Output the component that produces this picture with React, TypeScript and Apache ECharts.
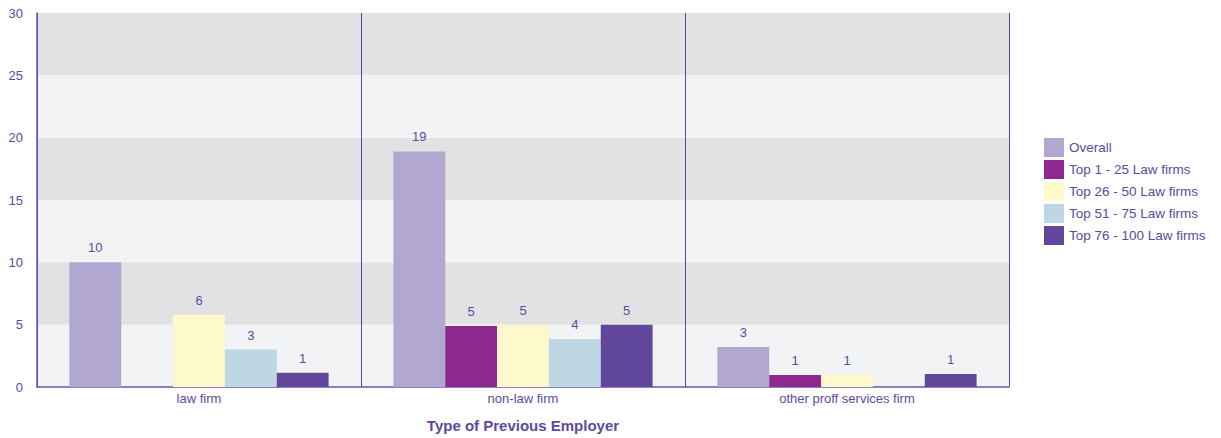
import React, { useEffect, useRef } from "react";
import * as echarts from "echarts";

const categories = ["law firm", "non-law firm", "other proff services firm"];
const seriesNames = ["Overall", "Top 1 - 25 Law firms", "Top 26 - 50 Law firms", "Top 51 - 75 Law firms", "Top 76 - 100 Law firms"];
const overall = [10, 18.9, 3.2];
const top1_25 = [null, 4.9, 0.97];
const top26_50 = [5.8, 5.0, 1.0];
const top51_75 = [3.0, 3.85, null];
const top76_100 = [1.15, 5.0, 1.05];
const colors = ["#b1a7d0", "#8e278e", "#fdf9cb", "#bdd7e5", "#60479c"];
const yTicks = [0, 5, 10, 15, 20, 25, 30];

const textColor = "#5e4a9e";

export default function App() {
  const ref = useRef<HTMLDivElement>(null);
  useEffect(() => {
    const chart = echarts.init(ref.current!, null, { renderer: "svg" });
    const all = [overall, top1_25, top26_50, top51_75, top76_100];
    chart.setOption({
      animation: false,
      textStyle: { fontFamily: "Arial, Liberation Sans, sans-serif" },
      grid: { left: 37, right: 212, top: 13, bottom: 51, outerBoundsMode: "none", containLabel: false },
      legend: {
        orient: "vertical",
        left: 1039,
        top: 133,
        itemWidth: 20,
        itemHeight: 19,
        itemGap: 3,
        icon: "rect",
        textStyle: { color: textColor, fontSize: 13.5 },
        data: seriesNames,
      },
      xAxis: {
        type: "category",
        data: categories,
        name: "Type of Previous Employer",
        nameLocation: "middle",
        nameGap: 31,
        nameTextStyle: { color: textColor, fontSize: 15, fontWeight: "bold" },
        axisLine: { lineStyle: { color: "#6a56aa", width: 1.5 } },
        axisTick: { show: false },
        axisLabel: { color: textColor, fontSize: 13, margin: 5 },
        splitLine: { show: true, lineStyle: { color: "#5b45a0", width: 1 } },
      },
      yAxis: {
        type: "value",
        min: yTicks[0],
        max: yTicks[yTicks.length - 1],
        interval: 5,
        axisLine: { show: true, lineStyle: { color: "#6a56aa", width: 1.5 } },
        axisTick: { show: false },
        axisLabel: { color: textColor, fontSize: 13, margin: 14 },
        splitLine: { show: false },
        splitArea: { show: true, areaStyle: { color: ["#f2f3f5", "#e1e2e4"] } },
      },
      series: seriesNames.map((name, i) => ({
        name,
        type: "bar",
        data: all[i],
        barGap: "0%",
        barCategoryGap: "20%",
        itemStyle: { color: colors[i] },
        label: {
          show: true,
          position: "top",
          distance: 8,
          color: textColor,
          fontSize: 13,
          formatter: (p: any) => String(Math.round(p.value)),
        },
      })),
    });
    return () => chart.dispose();
  }, []);
  return <div ref={ref} style={{ position: "absolute", left: 0, top: 0, width: 1221, height: 438 }} />;
}
